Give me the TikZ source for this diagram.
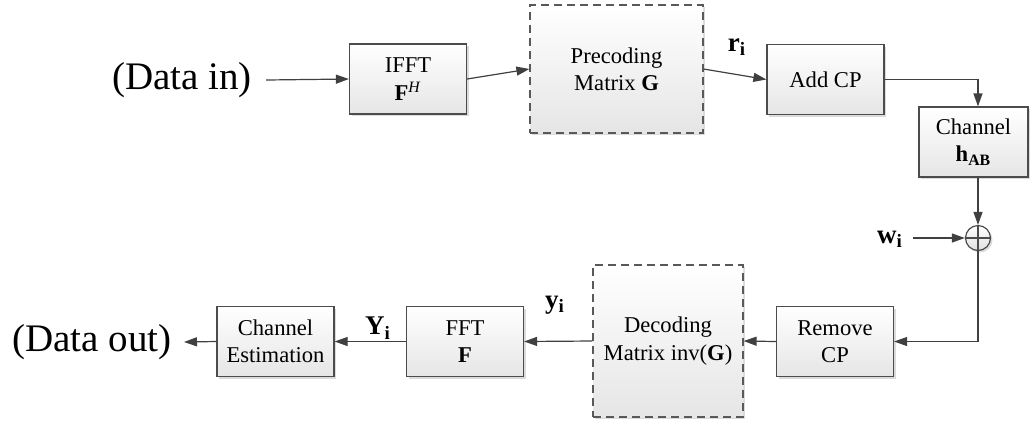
\documentclass[tikz,border=0pt]{standalone}
\usepackage{fontspec}
\setmainfont{Liberation Serif}
\usetikzlibrary{arrows.meta,shadows,positioning}

\begin{document}
\begin{tikzpicture}[x=0.5pt,y=0.5pt,
                    block/.style={draw=black!70, line width=0.6pt, top color=white, bottom color=black!10,
                                  drop shadow={shadow xshift=1pt, shadow yshift=-1pt, fill=black!35, opacity=0.4},
                                  minimum width=58.5pt, minimum height=35pt, align=center, inner sep=1pt,
                                  font=\fontsize{11.3}{13.6}\selectfont},
                    dashblock/.style={block, draw=black!65, dash pattern=on 4pt off 2.5pt},
                    sumnode/.style={circle, draw=black!70, line width=0.6pt, top color=white, bottom color=black!12,
                                    drop shadow={shadow xshift=1pt, shadow yshift=-1pt, fill=black!35, opacity=0.4},
                                    minimum size=12.5pt, inner sep=0pt},
                    big/.style={font=\fontsize{19.5}{23}\selectfont, inner sep=7pt},
                    sig/.style={font=\fontsize{13.5}{16}\selectfont\bfseries, inner sep=1pt},
                    flow/.style={draw=black!75, line width=0.6pt, -{Triangle[length=6.5pt,width=4.5pt]}}]
                    \useasboundingbox (0,0) rectangle (1030,-420);
                    % transmitter
                    \node (datain) at (182,-80) [big] {(Data in)};
                    \node (ifft) at (408,-79) [block] {IFFT\\\textbf{F}\textsuperscript{\textit{H}}};
                    \node (prec) at (616.5,-69) [dashblock, minimum width=86.5pt, minimum height=64pt]
                          {Precoding\\Matrix \textbf{G}};
                    \node (addcp) at (825.5,-79.5) [block] {Add CP};
                    \node (chan) at (973.5,-142) [block, minimum width=54.5pt] {Channel\\\textbf{h\textsubscript{AB}}};
                    \node (sum) at (978,-238) [sumnode] {};
                    \draw[black!70, line width=0.6pt] (sum.north) -- (sum.south) (sum.west) -- (sum.east);
                    \node (wi) at (890,-239) [sig] {w\textsubscript{i}};
                    % receiver
                    \node (rmcp) at (835,-341.5) [block] {Remove\\CP};
                    \node (dec) at (668,-341) [dashblock, minimum width=75pt, minimum height=76pt]
                          {Decoding\\Matrix inv(\textbf{G})};
                    \node (fft) at (465,-341.5) [block] {FFT\\\textbf{F}};
                    \node (chest) at (275.5,-341.5) [block] {Channel\\Estimation};
                    \node (dataout) at (92,-342) [big, inner sep=6pt] {(Data out)};
                    % signal names
                    \node (ri) at (737,-47) [sig] {r\textsubscript{i}};
                    \node (yi) at (555,-305) [sig] {y\textsubscript{i}};
                    \node (Yi) at (378,-328) [sig] {Y\textsubscript{i}};
                    \foreach \Source/\Target in {%
                        datain.east/ifft.west,
                        ifft.east/prec.west,
                        prec.east/addcp.west,
                        rmcp.west/dec.east,
                        dec.west/fft.east,
                        fft.west/chest.east,
                        chest.west/dataout.east%
                        }
                        \draw[flow] (\Source) -- (\Target);
                    \draw[flow, shorten <=4pt] (wi.east |- sum) -- (sum.west);
                    \draw[flow] (addcp.east) -| (chan.north -| sum.north);
                    \draw[flow] (chan.south -| sum.north) -- (sum.north);
                    \draw[flow] (sum.south) |- (rmcp.east);
\end{tikzpicture}
\end{document}
